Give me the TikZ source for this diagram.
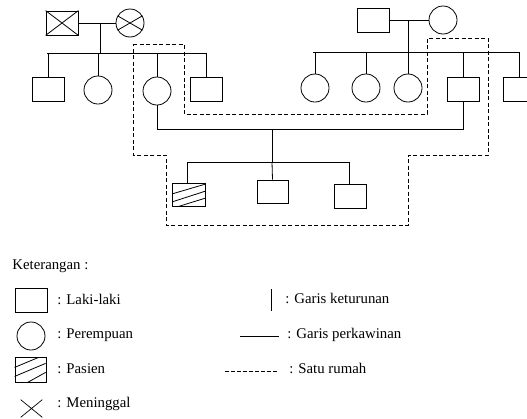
\documentclass[tikz,border=0pt]{standalone}
\usepackage{fontspec}
\setmainfont{Liberation Serif}
\usetikzlibrary{shapes.misc}
\begin{document}
\begin{tikzpicture}[x=1pt,y=-1pt,line width=0.8pt,
  male/.style={draw,rectangle,inner sep=0pt,minimum width=32pt,minimum height=24pt},
  female/.style={draw,circle,inner sep=0pt,minimum size=28pt},
  house/.style={dash pattern=on 4pt off 2.5pt,line width=0.8pt},
  lbl/.style={anchor=base west,inner sep=0pt,font=\fontsize{14.8}{17}\selectfont}]
\useasboundingbox (0,0) rectangle (527,418);
% ---------- left grandparents
\node[male] (gf) at (62,23) {};
\draw (gf.north west) -- (gf.south east) (gf.south west) -- (gf.north east);
\node[female] (gm) at (130,23) {};
\draw (gm.150) -- (gm.-30) (gm.210) -- (gm.30);
\draw (gf.east) -- (gm.west);
\coordinate (m1) at (100,23);
\coordinate (s1) at (100,53);
\coordinate (s1l) at (47,53);
\coordinate (s1r) at (206,53);
\draw (m1) -- (s1);
\draw (s1l) -- (s1r);
\node[male] (a1) at (48,89) {};
\node[female] (a2) at (98,90) {};
\node[female] (mom) at (157,91) {};
\node[male] (a4) at (206,89) {};
\foreach \n in {a1,a2,mom,a4} \draw (\n.north) -- (\n.north |- s1);
% ---------- right grandparents
\node[male] (gf2) at (373,20) {};
\node[female] (gm2) at (443,20) {};
\draw (gf2.east) -- (gm2.west);
\coordinate (m2) at (408,20);
\coordinate (s2l) at (313,52);
\coordinate (s2r) at (520,52);
\draw (s2l) -- (s2r);
\node[female] (b1) at (315,88) {};
\node[female] (b2) at (366,88) {};
\node[female] (b3) at (408,88) {};
\node[male] (dad) at (463,89) {};
\node[male] (b5) at (519,89) {};
\draw (m2) -- (b3.north);
\foreach \n in {b1,b2,dad,b5} \draw (\n.north) -- (\n.north |- s2l);
% ---------- parents' marriage and children
\coordinate (mm) at (157,129);
\coordinate (md) at (463,129);
\draw (mom.south) -- (mm) -- (md) -- (dad.south);
\coordinate (mc) at (272,129);
\coordinate (sc) at (272,162);
\coordinate (scl) at (187,162);
\coordinate (scr) at (349,162);
\draw (mc) -- (sc);
\draw (scl) -- (scr);
\node[male,minimum width=33pt,minimum height=23pt] (pat) at (189,195) {};
\node[male,minimum width=31pt,minimum height=23pt] (k2) at (272.5,191.5) {};
\node[male] (k3) at (350,196) {};
\draw (pat.north -| scl) -- (scl);
\draw (k2.north) -- (sc);
\draw (k3.north -| scr) -- (scr);
\begin{scope}
\clip (pat.south west) rectangle (pat.north east);
\draw ([yshift=13pt]pat.south west) -- ([xshift=34pt,yshift=23pt]pat.south west);
\draw ([yshift=5pt]pat.south west) -- ([xshift=34pt,yshift=16pt]pat.south west);
\draw ([xshift=5pt]pat.south west) -- ([xshift=34pt,yshift=9pt]pat.south west);
\end{scope}
% ---------- household
\coordinate (h1) at (133,44);
\coordinate (h2) at (184,44);
\coordinate (h3) at (184,114);
\coordinate (h4) at (427,114);
\coordinate (h5) at (427,38);
\coordinate (h6) at (488,38);
\coordinate (h7) at (488,155);
\coordinate (h8) at (408,155);
\coordinate (h9) at (408,225);
\coordinate (h10) at (166,225);
\coordinate (h11) at (166,155);
\coordinate (h12) at (133,155);
\draw[house] (h1) -- (h2) -- (h3) -- (h4) -- (h5) -- (h6) -- (h7) -- (h8) -- (h9) -- (h10) -- (h11) -- (h12) -- cycle;
% ---------- legend
\node[lbl] (ket) at (12,269) {Keterangan :};
\node[male] (lm) at (31,300) {};
\node[lbl] (tlm) at (57,304) {: Laki-laki};
\node[female] (lf) at (31,336) {};
\node[lbl] (tlf) at (57,338) {: Perempuan};
\node[male,minimum width=31pt,minimum height=25pt] (lp) at (30.5,369.5) {};
\begin{scope}
\clip (lp.south west) rectangle (lp.north east);
\draw ([yshift=15pt]lp.south west) -- ([xshift=24pt,yshift=25pt]lp.south west);
\draw ([yshift=6pt]lp.south west) -- ([xshift=31pt,yshift=19pt]lp.south west);
\draw ([xshift=13pt]lp.south west) -- ([xshift=31pt,yshift=10pt]lp.south west);
\end{scope}
\node[lbl] (tlp) at (57,373) {: Pasien};
\node[draw,cross out,inner sep=0pt,minimum width=21pt,minimum height=17pt,line width=0.7pt] (lx) at (31.5,408.5) {};
\node[lbl] (tlx) at (57,407) {: Meninggal};
\coordinate (k1) at (271,289);
\coordinate (k2e) at (271,311);
\draw (k1) -- (k2e);
\node[lbl] (tk) at (285,303) {: Garis keturunan};
\coordinate (w1) at (240,336);
\coordinate (w2) at (279,336);
\draw (w1) -- (w2);
\node[lbl] (tw) at (287,338) {: Garis perkawinan};
\coordinate (r1) at (225,371);
\coordinate (r2) at (278,371);
\draw[dash pattern=on 3.5pt off 2.5pt,line width=0.7pt] (r1) -- (r2);
\node[lbl] (tr) at (289,373) {: Satu rumah};
\end{tikzpicture}
\end{document}
